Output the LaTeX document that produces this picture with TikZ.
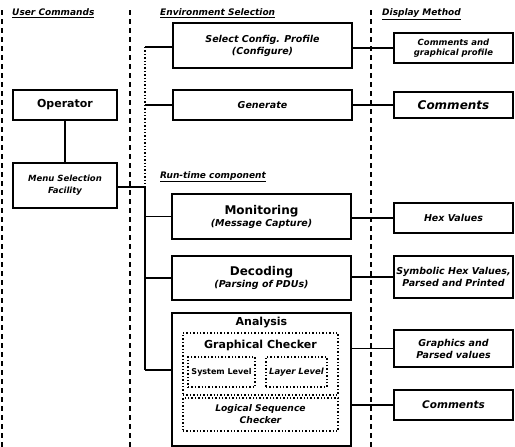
\documentclass[tikz,border=0pt]{standalone}
\usepackage{fontspec}
\setmainfont{DejaVu Sans}
\usetikzlibrary{arrows}

\begin{document}
\begin{tikzpicture}[x=1pt, y=-1pt,
    box/.style={draw, line width=1.4pt, inner sep=0pt, align=center,
        font=\fontsize{9.5}{12}\selectfont\bfseries\itshape},
    dotbox/.style={draw, dotted, line width=1.4pt, inner sep=0pt, align=center},
    head/.style={anchor=base west, inner sep=0pt,
        font=\fontsize{9}{11}\selectfont\bfseries\itshape},
    sep/.style={dashed, line width=1.3pt, dash pattern=on 5pt off 4pt},
    link/.style={line width=1.4pt}]
    \useasboundingbox (0,0) rectangle (515,447);

    % column separators
    \draw[sep] (2,10) -- (2,447);
    \draw[sep] (130,10) -- (130,447);
    \draw[sep] (371,10) -- (371,447);

    \node[head] (hUser) at (12,16) {\underline{User Commands}};
    \node[head] (hEnv) at (160,16) {\underline{Environment Selection}};
    \node[head] (hDisp) at (382,16) {\underline{Display Method}};
    \node[head] (hRun) at (160,178) {\underline{Run-time component}};

    % user commands
    \node[box, minimum width=104pt, minimum height=30pt,
        font=\fontsize{11}{13}\selectfont\bfseries] (op) at (65,105) {Operator};
    \node[box, minimum width=104pt, minimum height=45pt,
        font=\fontsize{8.5}{12}\selectfont\bfseries\itshape] (menu) at (65,185.5)
        {Menu Selection\\Facility};

    % environment selection
    \node[box, minimum width=179pt, minimum height=45pt] (cfg) at (262.5,45.5)
        {Select Config. Profile\\(Configure)};
    \node[box, minimum width=179pt, minimum height=30pt] (gen) at (262.5,105)
        {Generate};

    % run-time component
    \node[box, minimum width=179pt, minimum height=45pt] (mon) at (261.5,216.5)
        {{\fontsize{12}{14}\selectfont\upshape Monitoring}\\(Message Capture)};
    \node[box, minimum width=179pt, minimum height=44pt] (dec) at (261.5,278)
        {{\fontsize{12}{14}\selectfont\upshape Decoding}\\(Parsing of PDUs)};
    \node[box, minimum width=179pt, minimum height=133pt] (ana) at (261.5,379.5) {};
    \node[inner sep=0pt, font=\fontsize{11}{13}\selectfont\bfseries] (anaT)
        at (261.5,323) {Analysis};
    \node[dotbox, minimum width=155pt, minimum height=62pt] (gc) at (260.5,364) {};
    \node[inner sep=0pt, font=\fontsize{11}{13}\selectfont\bfseries] (gcT)
        at (260.5,345) {Graphical Checker};
    \node[dotbox, minimum width=67pt, minimum height=30pt,
        font=\fontsize{8}{10}\selectfont\bfseries] (sys) at (221.5,372) {System Level};
    \node[dotbox, minimum width=61pt, minimum height=30pt,
        font=\fontsize{8.5}{10}\selectfont\bfseries\itshape] (lay) at (296.5,372) {Layer Level};
    \node[dotbox, minimum width=155pt, minimum height=33pt,
        font=\fontsize{9.2}{12}\selectfont\bfseries\itshape] (lsc) at (260.5,414.5)
        {Logical Sequence\\Checker};

    % display method
    \node[box, minimum width=119pt, minimum height=30pt,
        font=\fontsize{8.5}{10.5}\selectfont\bfseries\itshape] (d1) at (453.5,48)
        {Comments and\\graphical profile};
    \node[box, minimum width=119pt, minimum height=26pt,
        font=\fontsize{12}{14}\selectfont\bfseries\itshape] (d2) at (453.5,105) {Comments};
    \node[box, minimum width=119pt, minimum height=30pt] (d3) at (453.5,218) {Hex Values};
    \node[box, minimum width=119pt, minimum height=42pt,
        font=\fontsize{9.5}{12.5}\selectfont\bfseries\itshape] (d4) at (453.5,277)
        {Symbolic Hex Values,\\Parsed and Printed};
    \node[box, minimum width=119pt, minimum height=37pt] (d5) at (453.5,348.5)
        {Graphics and\\Parsed values};
    \node[box, minimum width=119pt, minimum height=30pt,
        font=\fontsize{10.5}{12}\selectfont\bfseries\itshape] (d6) at (453.5,405) {Comments};

    % connectors
    \coordinate (t1) at (145,47);
    \coordinate (t2) at (145,187);
    \coordinate (t3) at (145,370);
    \draw[link] (op) -- (menu);
    \draw[link] (menu.east |- t2) -- (t2);
    \draw[dotted, line width=1.4pt] (t1) -- (t2);
    \draw[link] (t2) -- (t3);
    \draw[link] (t1) -- (t1 -| cfg.west);
    \draw[link] (t1 |- gen.west) -- (gen.west);
    \draw[link] (t2 |- mon.west) -- (mon.west);
    \draw[link] (t2 |- dec.west) -- (dec.west);
    \draw[link] (t3) -- (t3 -| ana.west);

    \draw[link] (cfg.east |- d1.west) -- (d1.west);
    \draw[link] (gen.east) -- (d2.west);
    \draw[link] (mon.east |- d3.west) -- (d3.west);
    \draw[link] (dec.east |- d4.west) -- (d4.west);
    \draw[link] (ana.east |- d5.west) -- (d5.west);
    \draw[link] (ana.east |- d6.west) -- (d6.west);
\end{tikzpicture}
\end{document}
